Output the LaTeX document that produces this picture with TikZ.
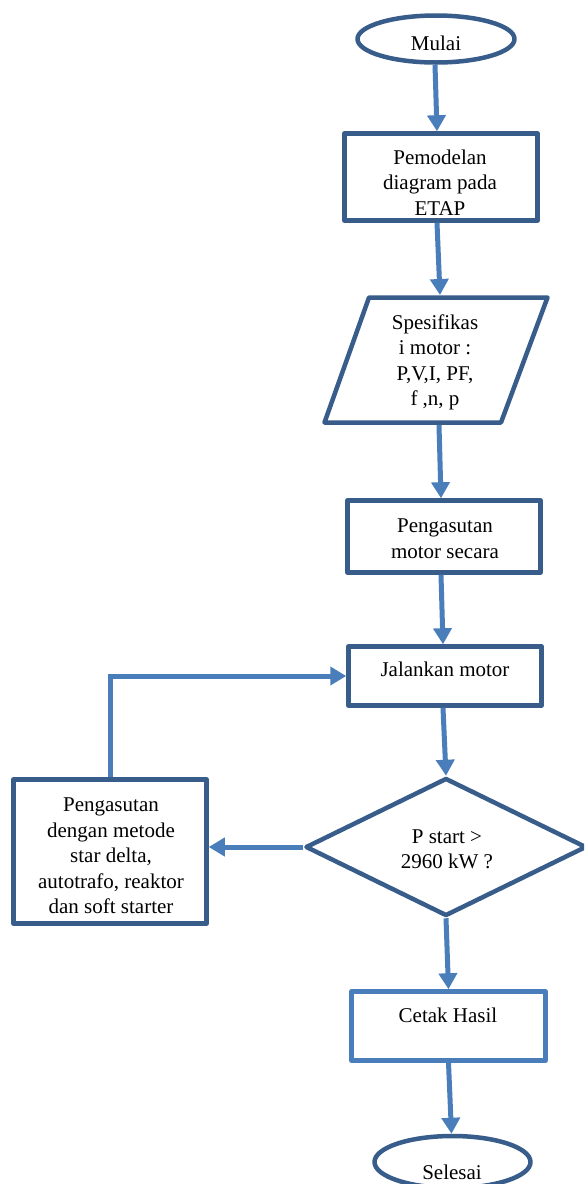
\documentclass[tikz,border=0pt]{standalone}
\usepackage{fontspec}
\setmainfont{Liberation Serif}
\usetikzlibrary{shapes.geometric,arrows.meta}
\definecolor{edgeblue}{HTML}{385D8A}
\definecolor{arrowblue}{HTML}{4A7EBB}
\begin{document}
\begin{tikzpicture}[x=1pt,y=-1pt,
  shp/.style={draw=edgeblue,line width=4.5pt,fill=white,inner sep=0pt,line join=round},
  boxs/.style={shp,rectangle},
  term/.style={shp,ellipse},
  txt/.style={align=center,font=\fontsize{21}{25.5}\selectfont,inner sep=0pt},
  flow/.style={draw=arrowblue,line width=5pt,-{Triangle[width=18pt,length=16pt]}}]
\useasboundingbox (0,0) rectangle (584,1184);
\clip (0,0) rectangle (584,1184);
\fill[white] (0,0) rectangle (584,1184);

% shapes
\node[term,minimum width=157pt,minimum height=47pt] (mulai) at (436,39) {};
\node[boxs,minimum width=193pt,minimum height=87pt] (b1) at (441,177) {};
\node[rectangle,draw=none,inner sep=0pt,outer sep=0pt,minimum width=228pt,minimum height=130pt] (spec) at (436,360) {};
\draw[shp] ([shift={(47,2.5)}]spec.north west) -- ([shift={(-2.5,2.5)}]spec.north east)
  -- ([shift={(-49,-2.5)}]spec.south east) -- ([shift={(2.5,-2.5)}]spec.south west) -- cycle;
\node[boxs,minimum width=193pt,minimum height=72pt] (ps) at (444,536.5) {};
\node[boxs,minimum width=193pt,minimum height=59pt] (jm) at (445,676) {};
\node[shp,diamond,minimum width=281pt,minimum height=138pt] (dia) at (446,847) {};
\node[boxs,minimum width=193pt,minimum height=144pt] (lb) at (110,851.5) {};
\node[boxs,draw=arrowblue,minimum width=194pt,minimum height=69pt] (ch) at (448.5,1026) {};
\node[term,minimum width=156pt,minimum height=52pt] (sel) at (452.5,1162) {};

% texts
\node[txt] (tmulai) at (436,43) {Mulai};
\node[txt] (tb1) at (440,182.5) {Pemodelan\\diagram pada\\ETAP};
\node[txt] (tspec) at (435,362.5) {Spesifikas\\i motor :\\P,V,I, PF,\\f ,n, p};
\node[txt] (tps) at (445,538.5) {Pengasutan\\motor secara};
\node[txt] (tjm) at (445,669) {Jalankan motor};
\node[txt] (tdia) at (447,849.5) {P start >\\2960 kW ?};
\node[txt] (tlb) at (111,856) {Pengasutan\\dengan metode\\star delta,\\autotrafo, reaktor\\dan soft starter};
\node[txt] (tch) at (448,1015) {Cetak Hasil};
\node[txt] (tsel) at (452,1172) {Selesai};

% connectors
\draw[flow] ([xshift=-1pt]mulai.south) -- ([xshift=-4pt]b1.north);
\draw[flow] ([xshift=-4pt]b1.south) -- ([xshift=4pt]spec.north);
\draw[flow] ([xshift=3pt]spec.south) -- ([xshift=-3pt]ps.north);
\draw[flow] ([xshift=-3pt]ps.south) -- ([xshift=-2pt]jm.north);
\draw[flow] ([xshift=-2pt]jm.south) -- (dia.north);
\draw[flow] (dia.south) -- (ch.north);
\draw[flow] (ch.south) -- ([xshift=-1pt]sel.north);
\draw[flow] (dia.west) -- (dia.west -| lb.east);
\draw[flow] (lb.north) |- (jm.west);
\end{tikzpicture}
\end{document}
